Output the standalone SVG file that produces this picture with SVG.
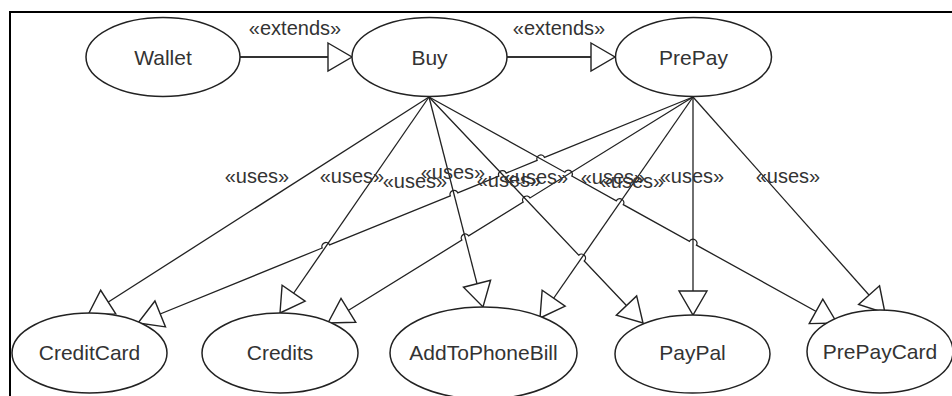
<svg xmlns="http://www.w3.org/2000/svg" width="952" height="396" viewBox="0 0 952 396">
<style>
.node ellipse{fill:#fff;stroke:#222;stroke-width:1.5}
.node text{font-family:"Liberation Sans",Arial,sans-serif;font-size:21px;fill:#333;text-anchor:middle}
.lbl{font-family:"Liberation Sans",Arial,sans-serif;font-size:20px;fill:#333;text-anchor:middle}
.c{fill:none;stroke:#222;stroke-width:1.3;marker-end:url(#tri)}
.ext{fill:none;stroke:#333;stroke-width:2.2;marker-end:url(#tri)}
</style>
<defs>
<marker id="tri" markerUnits="userSpaceOnUse" viewBox="0 0 27 30" markerWidth="27" markerHeight="30" refX="25" refY="15" orient="auto" overflow="visible">
<path d="M1,1 L25,15 L1,29 Z" fill="#fff" stroke="#222" stroke-width="1.4"/>
</marker>
</defs>
<rect width="952" height="396" fill="#fff"/>
<path d="M10,396 L10,12 L952,12" fill="none" stroke="#000" stroke-width="2"/>
<g id="connectors">
<path class="ext" d="M240,57 L352,57"/>
<path class="ext" d="M507,57 L615,57"/>
<path class="c" d="M429,97 L88,315"/>
<path class="c" d="M429,97 L280,313"/>
<path class="c" d="M429,97 L483,307"/>
<path class="c" d="M429,97 L578.75,255.16 A4 4 0 0 1 584.25,260.97 L643,323"/>
<path class="c" d="M429,97 L564.84,172.24 A4 4 0 0 1 571.84,176.12 L616.33,200.76 A4 4 0 0 1 623.33,204.64 L689.5,241.29 A4 4 0 0 1 696.5,245.17 L837,323"/>
<path class="c" d="M693,97 L544.56,157.45 A4 4 0 0 0 537.15,160.47 L506.18,173.07 A4 4 0 0 0 498.77,176.09 L457.73,192.8 A4 4 0 0 0 450.32,195.82 L329.6,244.97 A4 4 0 0 0 322.19,247.99 L138,323"/>
<path class="c" d="M693,97 L529.98,197.93 A4 4 0 0 0 523.18,202.15 L468.66,235.89 A4 4 0 0 0 461.86,240.11 L328,323"/>
<path class="c" d="M693,97 L540,318"/>
<path class="c" d="M693,97 L693,315"/>
<path class="c" d="M693,97 L885,313"/>
<text class="lbl" x="295" y="35">«extends»</text>
<text class="lbl" x="559" y="35">«extends»</text>
<text class="lbl" x="257" y="183">«uses»</text>
<text class="lbl" x="352" y="183">«uses»</text>
<text class="lbl" x="415" y="188">«uses»</text>
<text class="lbl" x="453" y="179">«uses»</text>
<text class="lbl" x="509" y="187">«uses»</text>
<text class="lbl" x="536" y="184">«uses»</text>
<text class="lbl" x="613" y="184">«uses»</text>
<text class="lbl" x="632" y="188">«uses»</text>
<text class="lbl" x="692" y="183">«uses»</text>
<text class="lbl" x="788" y="183">«uses»</text>
</g>
<g id="Wallet" class="node"><ellipse cx="163" cy="57" rx="77" ry="39.5"/><text x="163" y="65">Wallet</text></g>
<g id="Buy" class="node"><ellipse cx="429.5" cy="57" rx="77.5" ry="39.5"/><text x="429.5" y="65">Buy</text></g>
<g id="PrePay" class="node"><ellipse cx="693.5" cy="57" rx="78" ry="39.5"/><text x="693.5" y="65">PrePay</text></g>
<g id="CreditCard" class="node"><ellipse cx="89.5" cy="353" rx="77.5" ry="40"/><text x="89.5" y="360">CreditCard</text></g>
<g id="Credits" class="node"><ellipse cx="280" cy="353" rx="78" ry="40"/><text x="280" y="360">Credits</text></g>
<g id="AddToPhoneBill" class="node"><ellipse cx="483.5" cy="353" rx="93.5" ry="46"/><text x="483.5" y="360">AddToPhoneBill</text></g>
<g id="PayPal" class="node"><ellipse cx="692.5" cy="354" rx="77.5" ry="39"/><text x="692.5" y="360">PayPal</text></g>
<g id="PrePayCard" class="node"><ellipse cx="880" cy="351.5" rx="73" ry="41.5"/><text x="880" y="359">PrePayCard</text></g>
</svg>
